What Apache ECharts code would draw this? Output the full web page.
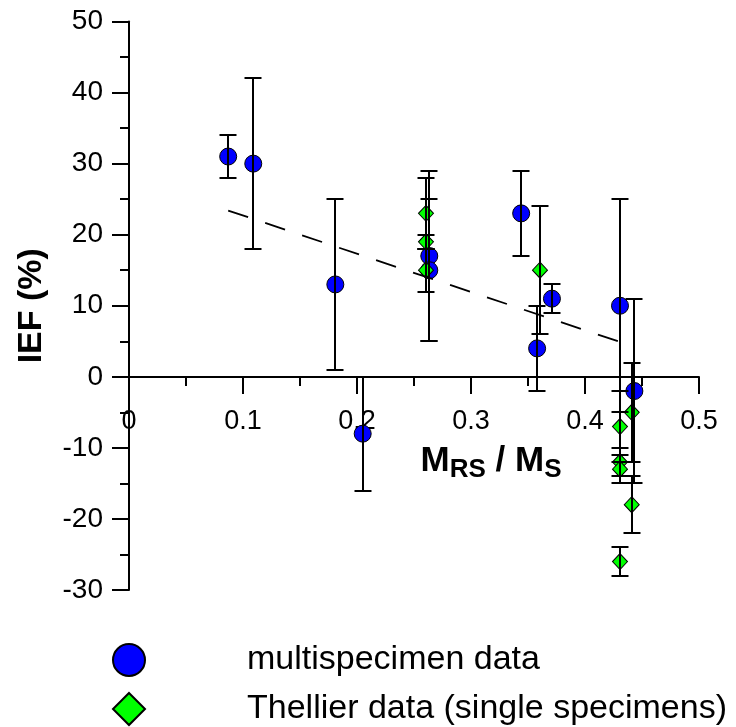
<!DOCTYPE html>
<html>
<head>
<meta charset="utf-8">
<script src="https://cdn.jsdelivr.net/npm/echarts@6/dist/echarts.min.js"></script>
<style>
  html, body { margin: 0; padding: 0; background: #fff; }
  #main { width: 736px; height: 727px; }
</style>
</head>
<body>
<div id="main"></div>
<script>
// multispecimen data (blue circles)
const multiX = [0.087, 0.109, 0.181, 0.205, 0.2634, 0.2634, 0.344, 0.358, 0.371, 0.4307, 0.4433]
const multiY = [31, 30, 13, -8, 17, 15, 23, 4, 11, 10, -2]
const multiLow = [28, 18, 1, -16, 5, 5, 17, -2, 9, -5, -15]
const multiHigh = [34, 42, 25, 0, 29, 25, 29, 10, 13, 25, 11]

// Thellier data, single specimens (green diamonds)
const thelX = [0.2605, 0.2605, 0.2605, 0.3605, 0.4307, 0.441, 0.4307, 0.4307, 0.441, 0.4307]
const thelY = [23, 19, 15, 15, -7, -5, -12, -13, -18, -26]
const thelLow = [18, 18, 12, 6, -12, -12, -14, -15, -22, -28]
const thelHigh = [28, 20, 18, 24, -2, 2, -10, -11, -14, -24]

// dashed regression line end points
const fitX = [0.087, 0.442]
const fitY = [23.4, 4.3]

const FONT = 'Liberation Sans, Arial, sans-serif'

const pairs = (xs, ys) => xs.map((x, i) => [x, ys[i]])
const errRows = (xs, lo, hi) => xs.map((x, i) => [x, lo[i], hi[i]])

// vertical error bar with caps
const renderErr = (params, api) => {
  const x = api.value(0)
  const pLo = api.coord([x, api.value(1)])
  const pHi = api.coord([x, api.value(2)])
  const cx = Math.round(pLo[0])
  const yLo = Math.round(pLo[1])
  const yHi = Math.round(pHi[1])
  const hw = 8.5
  const st = { stroke: '#000', lineWidth: 2 }
  return {
    type: 'group',
    children: [
      { type: 'line', shape: { x1: cx, y1: yLo, x2: cx, y2: yHi }, style: st },
      { type: 'line', shape: { x1: cx - hw, y1: yLo, x2: cx + hw, y2: yLo }, style: st },
      { type: 'line', shape: { x1: cx - hw, y1: yHi, x2: cx + hw, y2: yHi }, style: st }
    ]
  }
}

const chart = echarts.init(document.getElementById('main'))

const option = {
  animation: false,
  backgroundColor: '#fff',
  textStyle: { fontFamily: FONT, color: '#000' },
  grid: { left: 129, right: 37, top: 21.5, bottom: 137, outerBoundsMode: 'none' },
  legend: {
    data: ['multispecimen data', 'Thellier data (single specimens)'],
    orient: 'vertical',
    left: 112,
    top: 643,
    padding: 0,
    itemWidth: 32,
    itemHeight: 32,
    itemGap: 15,
    textStyle: { fontSize: 34, lineHeight: 32, color: '#000', fontFamily: FONT, padding: [0, 0, 0, 97] }
  },
  xAxis: {
    type: 'value',
    min: 0,
    max: 0.5,
    interval: 0.1,
    // sit the axis on y = 0 (grid bottom is y = -30)
    offset: -213,
    name: '{b|M}{s|RS}{b| / M}{s|S}',
    nameLocation: 'middle',
    nameGap: 60,
    nameTextStyle: {
      padding: [0, 0, 0, 154],
      rich: {
        b: { fontSize: 35, fontWeight: 'bold', fontFamily: FONT, color: '#000', lineHeight: 42 },
        s: { fontSize: 26, fontWeight: 'bold', fontFamily: FONT, color: '#000', padding: [17, 0, 0, 0], lineHeight: 42 }
      }
    },
    axisLine: { onZero: false, lineStyle: { color: '#000', width: 2 } },
    axisTick: { length: 17, lineStyle: { color: '#000', width: 2 } },
    minorTick: { show: true, splitNumber: 2, length: 9, lineStyle: { color: '#000', width: 2 } },
    axisLabel: { fontSize: 27, color: '#000', margin: 31, fontFamily: FONT },
    splitLine: { show: false }
  },
  yAxis: {
    type: 'value',
    min: -30,
    max: 50,
    interval: 10,
    name: 'IEF (%)',
    nameLocation: 'middle',
    nameGap: 80,
    nameTextStyle: { fontSize: 34, fontWeight: 'bold', color: '#000', fontFamily: FONT },
    axisLine: { lineStyle: { color: '#000', width: 2 } },
    axisTick: { length: 17, lineStyle: { color: '#000', width: 2 } },
    minorTick: { show: true, splitNumber: 2, length: 9, lineStyle: { color: '#000', width: 2 } },
    axisLabel: { fontSize: 28, color: '#000', margin: 26, fontFamily: FONT },
    splitLine: { show: false }
  },
  series: [
    {
      name: 'multispecimen data',
      type: 'scatter',
      symbol: 'circle',
      symbolSize: 17,
      itemStyle: { color: '#0000ff', borderColor: '#000', borderWidth: 1, opacity: 1 },
      data: pairs(multiX, multiY),
      z: 2
    },
    {
      name: 'Thellier data (single specimens)',
      type: 'scatter',
      symbol: 'diamond',
      symbolSize: [15, 16],
      itemStyle: { color: '#00ff00', borderColor: '#000', borderWidth: 1, opacity: 1 },
      data: pairs(thelX, thelY),
      z: 2
    },
    {
      name: 'errMulti',
      type: 'custom',
      renderItem: renderErr,
      encode: { x: 0, y: [1, 2] },
      data: errRows(multiX, multiLow, multiHigh),
      z: 3
    },
    {
      name: 'errThel',
      type: 'custom',
      renderItem: renderErr,
      encode: { x: 0, y: [1, 2] },
      data: errRows(thelX, thelLow, thelHigh),
      z: 3
    },
    {
      name: 'fit',
      type: 'line',
      symbol: 'none',
      data: pairs(fitX, fitY),
      lineStyle: { color: '#000', width: 1.8, type: [21, 18] },
      z: 4
    }
  ]
}

chart.setOption(option)
</script>
</body>
</html>
